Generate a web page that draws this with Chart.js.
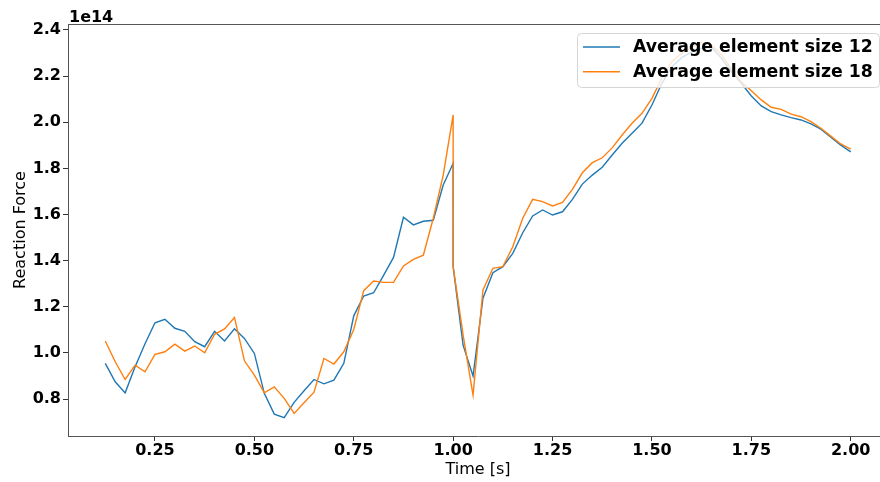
<!DOCTYPE html>
<html>
<head>
<meta charset="utf-8">
<script src="https://cdn.jsdelivr.net/npm/chart.js@4"></script>
<style>
  html, body { margin: 0; padding: 0; overflow: hidden; background: #fff; }
  #wrap { width: 880px; height: 482px; overflow: hidden; }
</style>
</head>
<body>
<div id="wrap"><canvas id="forceChart" width="888" height="482"></canvas></div>
<script>
// time steps (1.0 appears twice: the load jumps there)
const times = [
  0.125, 0.15, 0.175, 0.2, 0.225, 0.25, 0.275, 0.3, 0.325, 0.35, 0.375, 0.4, 0.425, 0.45, 0.475,
  0.5, 0.525, 0.55, 0.575, 0.6, 0.625, 0.65, 0.675, 0.7, 0.725, 0.75, 0.775, 0.8, 0.825, 0.85,
  0.875, 0.9, 0.925, 0.95, 0.975, 1.0, 1.0, 1.025, 1.05, 1.075, 1.1, 1.125, 1.15, 1.175, 1.2,
  1.225, 1.25, 1.275, 1.3, 1.325, 1.35, 1.375, 1.4, 1.425, 1.45, 1.475, 1.5, 1.525, 1.55, 1.575,
  1.6, 1.625, 1.65, 1.675, 1.7, 1.725, 1.75, 1.775, 1.8, 1.825, 1.85, 1.875, 1.9, 1.925, 1.95,
  1.975, 2.0
];

// reaction force, units of 1e14
const size12 = [
  0.955, 0.875, 0.827, 0.94, 1.04, 1.131, 1.146, 1.107, 1.094, 1.049, 1.027, 1.094, 1.052, 1.105, 1.063,
  0.998, 0.825, 0.735, 0.72, 0.786, 0.836, 0.885, 0.866, 0.882, 0.955, 1.161, 1.247, 1.261, 1.336, 1.414,
  1.588, 1.555, 1.571, 1.575, 1.728, 1.822, 1.374, 1.034, 0.9, 1.237, 1.348, 1.374, 1.432, 1.521, 1.594,
  1.62, 1.598, 1.612, 1.666, 1.732, 1.771, 1.805, 1.858, 1.909, 1.952, 1.996, 2.075, 2.169, 2.241, 2.28,
  2.305, 2.32, 2.325, 2.277, 2.219, 2.169, 2.114, 2.071, 2.046, 2.032, 2.02, 2.01, 1.993, 1.97, 1.935,
  1.901, 1.872
];

const size18 = [
  1.052, 0.962, 0.885, 0.947, 0.918, 0.994, 1.005, 1.038, 1.008, 1.03, 1.001, 1.081, 1.104, 1.154, 0.966,
  0.904, 0.827, 0.853, 0.803, 0.738, 0.784, 0.83, 0.976, 0.952, 1.005, 1.102, 1.27, 1.312, 1.306, 1.306,
  1.377, 1.406, 1.424, 1.584, 1.771, 2.032, 1.374, 1.078, 0.817, 1.273, 1.367, 1.374, 1.46, 1.584, 1.666,
  1.656, 1.637, 1.653, 1.709, 1.781, 1.825, 1.846, 1.889, 1.945, 1.996, 2.039, 2.104, 2.191, 2.263, 2.30,
  2.325, 2.345, 2.335, 2.292, 2.23, 2.176, 2.137, 2.097, 2.065, 2.056, 2.035, 2.024, 2.003, 1.974, 1.94,
  1.906, 1.884
];

const xTicks = [0.25, 0.5, 0.75, 1.0, 1.25, 1.5, 1.75, 2.0];
const yTicks = [0.8, 1.0, 1.2, 1.4, 1.6, 1.8, 2.0, 2.2, 2.4];
const seriesNames = ['Average element size 12', 'Average element size 18'];
const seriesColors = ['#1f77b4', '#ff7f0e'];

function toPoints(vals) {
  return times.map((t, i) => ({ x: t, y: vals[i] }));
}

// frame, offset text, axis labels and legend, matplotlib style
const extras = {
  id: 'extras',
  afterDraw(chart) {
    const ctx = chart.ctx;
    const a = chart.chartArea;
    ctx.save();
    ctx.strokeStyle = '#555';
    ctx.lineWidth = 1;
    ctx.beginPath();
    ctx.moveTo(a.left, a.top + 0.5);
    ctx.lineTo(a.right, a.top + 0.5);
    ctx.moveTo(a.right - 0.5, a.top);
    ctx.lineTo(a.right - 0.5, a.bottom);
    ctx.stroke();

    ctx.fillStyle = '#000';
    ctx.font = 'bold 16px "DejaVu Sans"';
    ctx.textAlign = 'left';
    ctx.textBaseline = 'alphabetic';
    ctx.fillText('1e14', a.left + 1, 22);

    ctx.font = '16px "DejaVu Sans"';
    ctx.textAlign = 'center';
    ctx.fillText('Time [s]', (a.left + a.right) / 2, 474);

    ctx.save();
    ctx.translate(25, (a.top + a.bottom) / 2);
    ctx.rotate(-Math.PI / 2);
    ctx.fillText('Reaction Force', 0, 0);
    ctx.restore();

    // legend
    ctx.beginPath();
    ctx.roundRect(577.5, 33.5, 302, 54, 4);
    ctx.fillStyle = 'rgba(255,255,255,0.8)';
    ctx.fill();
    ctx.strokeStyle = '#d5d5d5';
    ctx.stroke();
    ctx.font = 'bold 17.3px "DejaVu Sans"';
    ctx.textAlign = 'left';
    ctx.textBaseline = 'middle';
    seriesNames.forEach((name, i) => {
      const y = 47 + i * 24.7;
      ctx.strokeStyle = seriesColors[i];
      ctx.lineWidth = 1.4;
      ctx.beginPath();
      ctx.moveTo(583, y);
      ctx.lineTo(620, y);
      ctx.stroke();
      ctx.fillStyle = '#000';
      ctx.fillText(name, 633, y + 1);
    });
    ctx.restore();
  }
};

new Chart(document.getElementById('forceChart'), {
  type: 'line',
  data: {
    datasets: [
      { label: seriesNames[0], data: toPoints(size12), borderColor: seriesColors[0], borderWidth: 1.4, order: 1 },
      { label: seriesNames[1], data: toPoints(size18), borderColor: seriesColors[1], borderWidth: 1.4, order: 0 }
    ]
  },
  options: {
    responsive: false,
    animation: false,
    layout: { padding: { top: 24, right: 0, left: 0, bottom: 0 } },
    elements: { point: { radius: 0 }, line: { tension: 0, fill: false } },
    plugins: { legend: { display: false }, tooltip: { enabled: false } },
    scales: {
      x: {
        type: 'linear',
        min: 0.03125,
        max: 2.09375,
        afterBuildTicks: s => { s.ticks = xTicks.map(v => ({ value: v })); },
        afterFit: s => { s.height = 46; },
        ticks: {
          callback: v => v.toFixed(2),
          color: '#000',
          font: { family: 'DejaVu Sans', size: 16, weight: 'bold' },
          padding: 0,
          maxRotation: 0
        },
        grid: { drawOnChartArea: false, tickLength: 5, tickColor: '#333' },
        border: { color: '#555', width: 1 }
      },
      y: {
        min: 0.64,
        max: 2.426,
        afterBuildTicks: s => { s.ticks = yTicks.map(v => ({ value: v })); },
        afterFit: s => { s.width = 68; },
        ticks: {
          callback: v => v.toFixed(1),
          color: '#000',
          font: { family: 'DejaVu Sans', size: 16, weight: 'bold' },
          padding: 2
        },
        grid: { drawOnChartArea: false, tickLength: 5, tickColor: '#333' },
        border: { color: '#555', width: 1 }
      }
    }
  },
  plugins: [extras]
});
</script>
</body>
</html>
